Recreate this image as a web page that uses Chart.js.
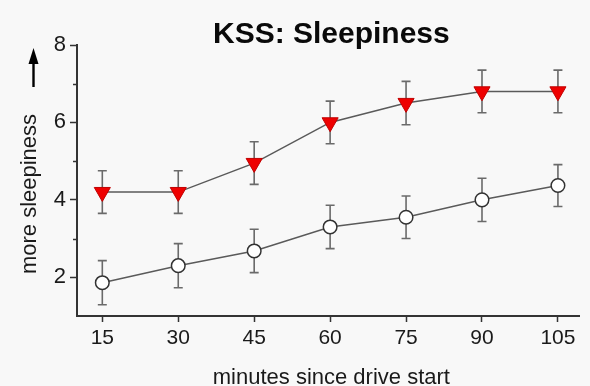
<!DOCTYPE html>
<html>
<head>
<meta charset="utf-8">
<script src="https://cdn.jsdelivr.net/npm/chart.js@4/dist/chart.umd.min.js"></script>
<style>
  html, body { margin: 0; padding: 0; background: #f8f8f8; }
  #wrap { width: 590px; height: 386px; position: relative; }
</style>
</head>
<body>
<div id="wrap"><canvas id="c"></canvas></div>
<script>
// Minutes since drive start (x categories)
const minutes = [15, 30, 45, 60, 75, 90, 105];
// KSS means and standard errors, condition 1 (red triangles)
const kssCond1 = [4.2, 4.2, 4.95, 6.0, 6.5, 6.8, 6.8];
const errCond1 = [0.55, 0.55, 0.55, 0.55, 0.56, 0.55, 0.55];
// KSS means and standard errors, condition 2 (open circles)
const kssCond2 = [1.86, 2.3, 2.68, 3.3, 3.55, 4.0, 4.37];
const errCond2 = [0.57, 0.57, 0.56, 0.56, 0.55, 0.56, 0.54];
// Axis ticks
const xTickValues = [15, 30, 45, 60, 75, 90, 105];
const yTickValues = [2, 4, 6, 8];
const yMinorTicks = [3, 5, 7];

const titleText = 'KSS: Sleepiness';
const xTitle = 'minutes since drive start';
const yTitle = 'more sleepiness';

const FONT = '"Liberation Sans", Arial, Helvetica, sans-serif';
const AXIS_COLOR = '#333333';
const TEXT_COLOR = '#1a1a1a';

// Error bars, minor ticks, titles and the "more" arrow
const decorations = {
  id: 'decorations',
  beforeDatasetsDraw(chart) {
    const ctx = chart.ctx;
    const xs = chart.scales.x, ys = chart.scales.y;
    ctx.save();
    ctx.strokeStyle = '#6a6a6a';
    ctx.lineWidth = 1.6;
    const bars = [[kssCond1, errCond1], [kssCond2, errCond2]];
    bars.forEach(([vals, errs]) => {
      vals.forEach((v, i) => {
        const px = xs.getPixelForValue(minutes[i]);
        const top = ys.getPixelForValue(v + errs[i]);
        const bot = ys.getPixelForValue(v - errs[i]);
        ctx.beginPath();
        ctx.moveTo(px, top); ctx.lineTo(px, bot);
        ctx.moveTo(px - 4.5, top); ctx.lineTo(px + 4.5, top);
        ctx.moveTo(px - 4.5, bot); ctx.lineTo(px + 4.5, bot);
        ctx.stroke();
      });
    });
    ctx.restore();
  },
  afterDraw(chart) {
    const ctx = chart.ctx;
    const area = chart.chartArea;
    const ys = chart.scales.y;
    ctx.save();
    // minor y ticks
    ctx.strokeStyle = AXIS_COLOR;
    ctx.lineWidth = 1.5;
    yMinorTicks.forEach(v => {
      const py = Math.round(ys.getPixelForValue(v)) + 0.5;
      ctx.beginPath();
      ctx.moveTo(area.left - 4, py);
      ctx.lineTo(area.left, py);
      ctx.stroke();
    });
    const cx = (area.left + area.right) / 2 + 3;
    // main title
    ctx.fillStyle = '#0a0a0a';
    ctx.font = 'bold 30px ' + FONT;
    ctx.textAlign = 'center';
    ctx.textBaseline = 'alphabetic';
    ctx.fillText(titleText, cx, 43);
    // x axis title
    ctx.fillStyle = TEXT_COLOR;
    ctx.font = '22px ' + FONT;
    ctx.fillText(xTitle, cx, 384);
    // y axis title
    ctx.save();
    ctx.translate(36, 194);
    ctx.rotate(-Math.PI / 2);
    ctx.textBaseline = 'alphabetic';
    ctx.fillText(yTitle, 0, 0);
    ctx.restore();
    // upward arrow
    ctx.strokeStyle = '#000';
    ctx.fillStyle = '#000';
    ctx.lineWidth = 2.4;
    ctx.beginPath();
    ctx.moveTo(33.5, 87);
    ctx.lineTo(33.5, 60);
    ctx.stroke();
    ctx.beginPath();
    ctx.moveTo(33.5, 48);
    ctx.lineTo(38.5, 64);
    ctx.lineTo(28.5, 64);
    ctx.closePath();
    ctx.fill();
    ctx.restore();
  }
};

new Chart(document.getElementById('c'), {
  type: 'line',
  data: {
    datasets: [
      {
        label: 'Condition 1',
        data: minutes.map((m, i) => ({ x: m, y: kssCond1[i] })),
        borderColor: '#5a5a5a',
        borderWidth: 1.5,
        pointStyle: 'triangle',
        rotation: 180,
        pointRadius: 9.3,
        pointBackgroundColor: '#ee0000',
        pointBorderColor: '#c00000',
        pointBorderWidth: 1,
        tension: 0
      },
      {
        label: 'Condition 2',
        data: minutes.map((m, i) => ({ x: m, y: kssCond2[i] })),
        borderColor: '#5a5a5a',
        borderWidth: 1.5,
        pointStyle: 'circle',
        pointRadius: 6.8,
        pointBackgroundColor: '#ffffff',
        pointBorderColor: '#333333',
        pointBorderWidth: 1.5,
        tension: 0
      }
    ]
  },
  options: {
    responsive: true,
    maintainAspectRatio: false,
    animation: false,
    events: [],
    layout: { padding: { top: 45, left: 0, right: 0, bottom: 0 } },
    plugins: {
      legend: { display: false },
      title: { display: false },
      tooltip: { enabled: false }
    },
    scales: {
      x: {
        type: 'linear',
        min: 10,
        max: 109.3,
        afterBuildTicks(scale) { scale.ticks = xTickValues.map(v => ({ value: v })); },
        afterFit(scale) { scale.height = 70; },
        grid: { drawOnChartArea: false, drawTicks: true, tickLength: 6, tickColor: AXIS_COLOR, tickWidth: 1.5 },
        border: { display: true, color: AXIS_COLOR, width: 2 },
        ticks: { color: TEXT_COLOR, font: { family: FONT, size: 21 }, padding: 4, maxRotation: 0, autoSkip: false }
      },
      y: {
        type: 'linear',
        min: 1,
        max: 8,
        afterBuildTicks(scale) { scale.ticks = yTickValues.map(v => ({ value: v })); },
        afterFit(scale) { scale.width = 77; },
        grid: { drawOnChartArea: false, drawTicks: true, tickLength: 7, tickColor: AXIS_COLOR, tickWidth: 1.5 },
        border: { display: true, color: AXIS_COLOR, width: 2 },
        ticks: { color: TEXT_COLOR, font: { family: FONT, size: 22 }, padding: 4 }
      }
    }
  },
  plugins: [decorations]
});
</script>
</body>
</html>
